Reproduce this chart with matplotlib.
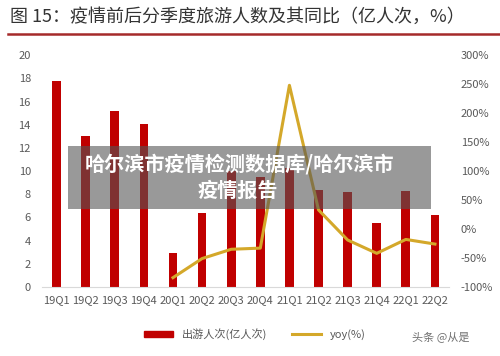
import matplotlib
matplotlib.use("Agg")
import matplotlib.pyplot as plt
from matplotlib.lines import Line2D
from matplotlib.patches import Patch, Rectangle

plt.rcParams['font.family'] = ['Noto Sans CJK SC', 'DejaVu Sans']

categories = ["19Q1", "19Q2", "19Q3", "19Q4", "20Q1", "20Q2", "20Q3", "20Q4",
              "21Q1", "21Q2", "21Q3", "21Q4", "22Q1", "22Q2"]
trips = [17.8, 13.0, 15.2, 14.1, 2.9, 6.35, 10.0, 9.47, 10.24, 8.4, 8.19, 5.5, 8.3, 6.25]
yoy_categories = categories[4:]
yoy = [-84, -51, -35, -33, 248, 33, -19, -42, -18, -26]

left_ticks = [0, 2, 4, 6, 8, 10, 12, 14, 16, 18, 20]
right_ticks = [-100, -50, 0, 50, 100, 150, 200, 250, 300]

bar_color = "#C00000"
line_color = "#D4A82A"
text_color = "#595959"

fig = plt.figure(figsize=(5.0, 3.56), dpi=100)
ax = fig.add_axes([0.084, 0.194, 0.815, 0.651])
x = list(range(len(categories)))
ax.bar(x, trips, width=0.3, color=bar_color, zorder=2)
ax.set_xlim(-0.5, len(categories) - 0.5)
ax.set_ylim(0, 20)
ax.set_yticks(left_ticks)
ax.set_xticks(x)
ax.set_xticklabels(categories, fontsize=8, color=text_color)
ax.tick_params(axis='y', labelsize=8, colors=text_color, length=0, pad=8)
ax.tick_params(axis='x', length=0, pad=6)
for s in ["top", "right", "left"]:
    ax.spines[s].set_visible(False)
ax.spines["bottom"].set_color("#D9D9D9")

ax2 = ax.twinx()
xi = [categories.index(c) for c in yoy_categories]
ax2.plot(xi, yoy, color=line_color, lw=2.2, zorder=3, solid_joinstyle='round')
ax2.set_ylim(-100, 300)
ax2.set_yticks(right_ticks)
ax2.set_yticklabels([f"{t}%" for t in right_ticks])
ax2.tick_params(axis='y', labelsize=8, colors=text_color, length=0, pad=8)
for s in ax2.spines.values():
    s.set_visible(False)

# title
fig.text(0.02, 0.952, "图 15：疫情前后分季度旅游人数及其同比（亿人次，%）",
         fontsize=13, color="#333333", ha="left", va="center")
fig.add_artist(Line2D([0.016, 1.0], [0.905, 0.905], color="#A52A2A", lw=1.8,
                      transform=fig.transFigure))

# legend
handles = [Patch(color=bar_color, label="出游人次(亿人次)"),
           Line2D([0], [0], color=line_color, lw=2.2, label="yoy(%)")]
fig.legend(handles=handles, loc="center", bbox_to_anchor=(0.51, 0.062), ncol=2,
           frameon=False, fontsize=8, labelcolor=text_color, handlelength=2.6,
           handleheight=0.5, columnspacing=2.2)

# overlay watermark
fig.add_artist(Rectangle((68 / 500, 1 - 209 / 356), (431 - 68) / 500, (209 - 146) / 356,
                         transform=fig.transFigure, facecolor="#555555", alpha=0.6,
                         edgecolor="none", zorder=10))
fig.text(0.48, 1 - 164 / 356, "哈尔滨市疫情检测数据库/哈尔滨市", fontsize=14.5,
         fontweight="bold", color="white", ha="center", va="center", zorder=11)
fig.text(0.475, 1 - 190 / 356, "疫情报告", fontsize=14.5,
         fontweight="bold", color="white", ha="center", va="center", zorder=11)
fig.text(0.94, 0.055, "头条 @从是", fontsize=8, color="#333333",
         ha="right", va="center", alpha=0.7)

fig.savefig("out.png", dpi=100)
